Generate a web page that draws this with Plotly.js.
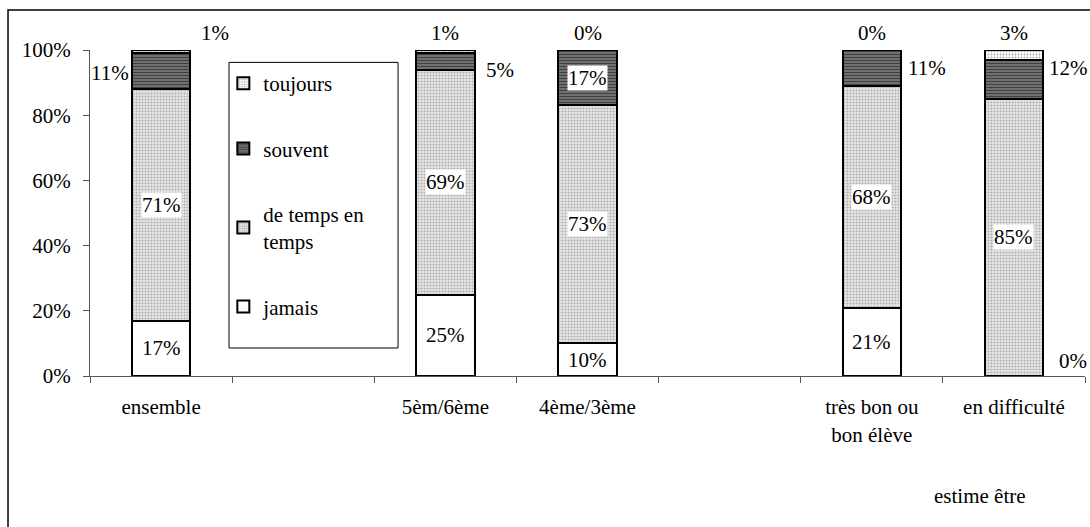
<!DOCTYPE html>
<html>
<head>
<meta charset="utf-8">
<script src="https://cdn.plot.ly/plotly-3.0.1.min.js"></script>
<style>html,body{margin:0;padding:0;background:#fff;}#chart{width:1090px;height:527px;}</style>
</head>
<body>
<div id="chart"></div>
<script>
// categories (two blank spacer slots as in the original)
const categories = ["ensemble", "\u00a0", "5èm/6ème", "4ème/3ème", "\u00a0\u00a0", "très bon ou<br>bon élève", "en difficulté"];
const barCategories = ["ensemble", "5èm/6ème", "4ème/3ème", "très bon ou<br>bon élève", "en difficulté"];
// series values (%)
const jamais      = [17, 25, 10, 21, 0];
const deTemps     = [71, 69, 73, 68, 85];
const souvent     = [11, 5, 17, 11, 12];
const toujours    = [1, 1, 0, 0, 3];
const seriesNames = ["jamais", "de temps en<br>temps", "souvent", "toujours"];
const yTickValues = [0, 20, 40, 60, 80, 100];
const yTickLabels = ["0%", "20%", "40%", "60%", "80%", "100%"];

const FONT = "Liberation Serif";
const FS = 21;
const series = [jamais, deTemps, souvent, toujours];
const styles = [
  {color: "#ffffff", pattern: {shape: ""}},
  {color: "#e2e2e2", pattern: {shape: ".", fgcolor: "#b0b0b0", bgcolor: "#e8e8e8", size: 3, solidity: 0.4}},
  {color: "#6a6a6a", pattern: {shape: "-", fgcolor: "#404040", bgcolor: "#7a7a7a", size: 3, solidity: 0.45}},
  {color: "#ffffff", pattern: {shape: ".", fgcolor: "#b0b0b0", bgcolor: "#ffffff", size: 3, solidity: 0.3}}
];

const traces = series.map((vals, i) => ({
  type: "bar",
  name: seriesNames[i],
  legendgroup: "g" + i,
  legendrank: 4 - i,
  x: barCategories,
  y: vals,
  marker: {color: styles[i].color, pattern: styles[i].pattern, line: {color: "#000", width: 2}},
  hoverinfo: "skip"
}));

// label placement (per series / per bar): [xshift, yshift, withBackground]
const annotations = [];
const place = [
  [[0,0,1],[0,0,1],[0,0,1],[0,0,1],[59,15,0]],
  [[0,0,1],[0,0,1],[0,0,1],[0,0,1],[0,0,1]],
  [[-51,-2,0],[55,-9,0],[0,0,1],[55,0,0],[55,11,0]],
  [[54,4,0],[0,4,0],[0,4,0],[0,4,0],[0,4,0]]
];
barCategories.forEach((c, j) => {
  let base = 0;
  series.forEach((vals, i) => {
    const v = vals[j];
    const p = place[i][j];
    let y = base + v / 2;
    let yanchor = "middle";
    if (i === 3) { y = 100; yanchor = "bottom"; }
    annotations.push({
      x: c, y: y, xref: "x", yref: "y",
      text: v + "%", showarrow: false,
      xshift: p[0], yshift: p[1], xanchor: "center", yanchor: yanchor,
      bgcolor: p[2] ? "#ffffff" : "rgba(0,0,0,0)",
      borderpad: 0,
      font: {family: FONT, size: FS, color: "#000"}
    });
    base += v;
  });
});
annotations.push({
  xref: "paper", yref: "paper", x: 0.894, y: -0.368,
  xanchor: "center", yanchor: "middle",
  text: "estime être", showarrow: false,
  font: {family: FONT, size: FS, color: "#000"}
});

const layout = {
  width: 1090, height: 527,
  margin: {l: 90, r: 5, t: 50, b: 151},
  paper_bgcolor: "#fff", plot_bgcolor: "#fff",
  barmode: "stack", bargap: 0.59,
  font: {family: FONT, size: FS, color: "#000"},
  showlegend: true,
  legend: {
    x: 0.134, y: 0.96, xanchor: "left", yanchor: "top",
    traceorder: "grouped", tracegroupgap: 35,
    bgcolor: "rgba(0,0,0,0)", borderwidth: 0,
    font: {family: FONT, size: FS, color: "#000"},
    itemclick: false
  },
  xaxis: {
    type: "category", categoryorder: "array", categoryarray: categories,
    range: [-0.5, 6.5],
    showline: true, linecolor: "#555", linewidth: 1,
    ticks: "outside", tickson: "boundaries", ticklen: 6, tickcolor: "#555",
    ticklabelstandoff: 12,
    tickfont: {family: FONT, size: FS, color: "#000"},
    showgrid: false, zeroline: false, fixedrange: true
  },
  yaxis: {
    range: [0, 100], tickmode: "array", tickvals: yTickValues, ticktext: yTickLabels,
    showline: true, linecolor: "#555", linewidth: 1,
    ticks: "outside", ticklen: 6, tickcolor: "#555",
    ticklabelstandoff: 8,
    tickfont: {family: FONT, size: FS, color: "#000"},
    showgrid: false, zeroline: false, fixedrange: true
  },
  shapes: [
    {type: "rect", xref: "paper", yref: "paper", x0: -0.0824, y0: 1.1227, x1: 1.3, y1: -0.8,
     line: {color: "#000", width: 1.5}, fillcolor: "rgba(0,0,0,0)", layer: "below"},
    {type: "rect", xref: "paper", yref: "paper", x0: 0.1397, y0: 0.962, x1: 0.3096, y1: 0.0859,
     line: {color: "#000", width: 1}, fillcolor: "rgba(0,0,0,0)", layer: "below"}
  ],
  annotations: annotations
};

Plotly.newPlot("chart", traces, layout, {displayModeBar: false, staticPlot: true});
</script>
</body>
</html>
